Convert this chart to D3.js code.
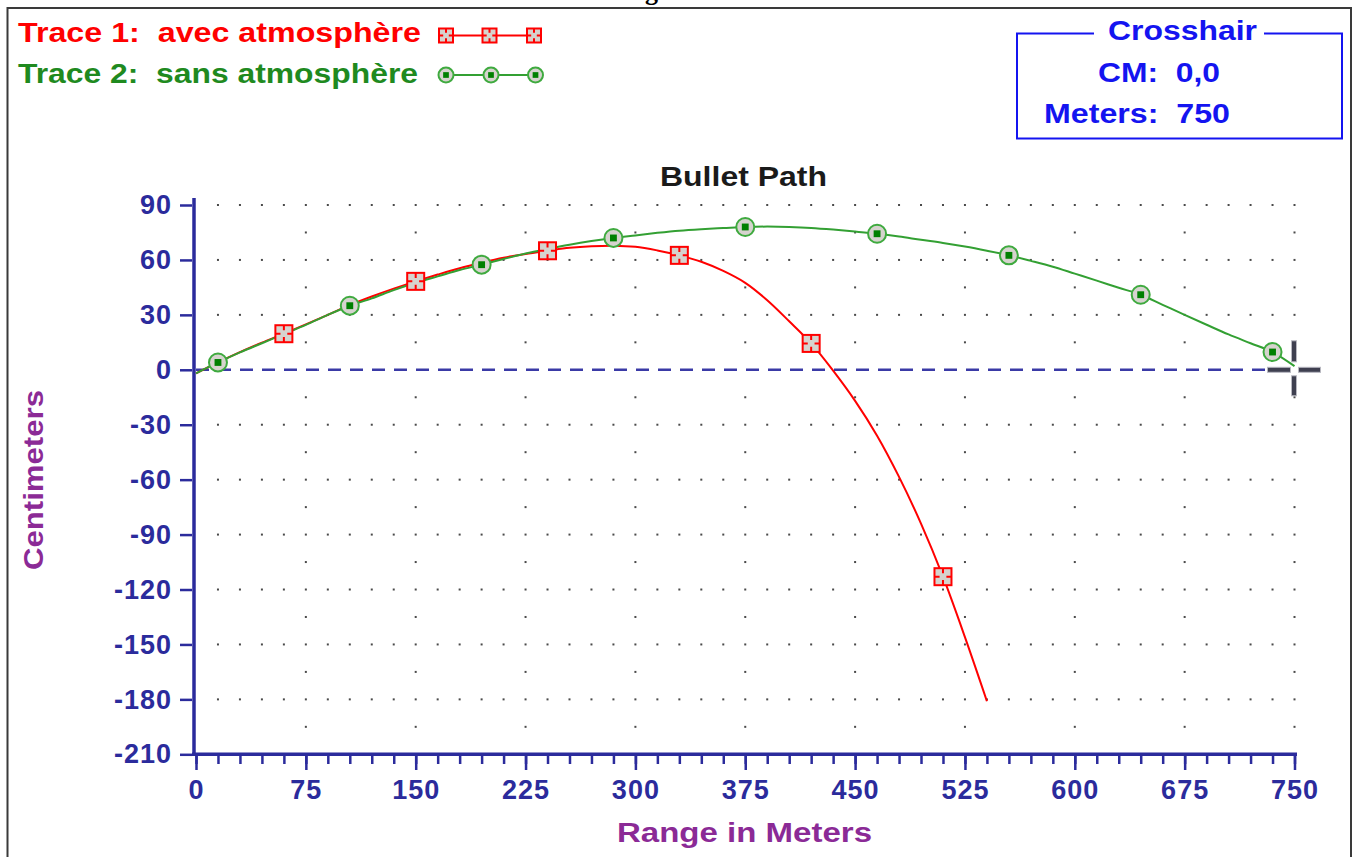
<!DOCTYPE html>
<html>
<head>
<meta charset="utf-8">
<script src="https://cdn.jsdelivr.net/npm/d3@7"></script>
<style>
  body { margin: 0; background: #fff; }
  svg { display: block; }
  text { font-family: "Liberation Sans", Arial, sans-serif; font-weight: bold; white-space: pre; }
</style>
</head>
<body>
<svg id="chart" width="1356" height="857"></svg>
<script>
// ---- data ----
const xTicks = [0, 75, 150, 225, 300, 375, 450, 525, 600, 675, 750];
const yTicks = [90, 60, 30, 0, -30, -60, -90, -120, -150, -180, -210];

// Trace 1: avec atmosphère (range m, drop cm)
const atmoRange = [0, 15, 30, 45, 60, 75, 90, 105, 120, 135, 150, 165, 180, 195, 210, 225, 240, 255, 270, 285, 300, 315, 330, 345, 360, 375, 390, 405, 420, 435, 450, 465, 480, 495, 510, 525, 540];
const atmoCm    = [-2, 4, 9.6, 14.8, 19.7, 24.8, 30, 35.3, 40, 44.3, 48.3, 52, 55.5, 58.5, 61.2, 63.3, 65, 66.6, 67.5, 67.8, 67.2, 65.2, 62.5, 59, 54, 47.5, 38, 26.5, 14.4, -0.5, -17, -36, -58.5, -84, -113, -146, -181];
const atmoMarkRange = [60, 150, 240, 330, 420, 510];
const atmoMarkCm    = [19.7, 48.3, 65.0, 62.5, 14.4, -113.0];

// Trace 2: sans atmosphère
const vacRange = [0, 15, 30, 45, 60, 75, 90, 105, 120, 135, 150, 165, 180, 195, 210, 225, 240, 255, 270, 285, 300, 315, 330, 345, 360, 375, 390, 405, 420, 435, 450, 465, 480, 495, 510, 525, 540, 555, 570, 585, 600, 615, 630, 645, 660, 675, 690, 705, 720, 735, 750];
const vacCm    = [-2, 4, 9.5, 14.5, 19.5, 24.5, 30, 35, 39, 43.5, 47.5, 51, 54.5, 57.4, 60.5, 63.5, 66, 68.3, 70.3, 72, 73.4, 74.8, 76, 76.8, 77.4, 78, 78.2, 78, 77.5, 76.6, 75.5, 74.3, 72.8, 71, 69.3, 67.3, 65, 62.5, 59.5, 56.3, 52.5, 48.7, 44.8, 41, 35.5, 30, 24.6, 19.3, 14.5, 9.7, 2];
const vacMarkRange = [15, 105, 195, 285, 375, 465, 555, 645, 735];
const vacMarkCm    = [4.0, 35.0, 57.4, 72.0, 78.0, 74.3, 62.5, 41.0, 9.7];

const crossRange = 750;
const crossCm = 0;

const legendLabels = ['Trace 1:  avec atmosphère', 'Trace 2:  sans atmosphère'];

// ---- colours ----
const navy = '#2b2b9c';
const red = '#ff0000';
const greenLine = '#33a033';
const greenText = '#1f8a1f';
const purple = '#8b2a96';
const blue = '#1414f0';
const markFill = '#d6d3ce';

const svg = d3.select('#chart');

const x = d3.scaleLinear().domain([0, 750]).range([196, 1294.5]);
const y = d3.scaleLinear().domain([-210, 90]).range([754.3, 205]);

// frame of the original window
svg.append('path')
  .attr('d', 'M7.5,870 V8 H1351 V870')
  .attr('fill', 'none')
  .attr('stroke', '#3a3a3a')
  .attr('stroke-width', 2);

// caption above the frame, cut off by the top edge as in the scan
svg.append('text')
  .attr('x', 622).attr('y', -0.5)
  .style('font-family', '"Liberation Serif", serif')
  .style('font-size', '26px')
  .attr('fill', '#000')
  .text('Fig. 3');

// ---- dotted grid ----
const grid = svg.append('g').attr('fill', '#4a4a4a');
yTicks.filter(v => v !== 0 && v !== -210).forEach(v => {
  grid.selectAll(null)
    .data(d3.range(15, 751, 15))
    .enter().append('rect')
    .attr('x', d => x(d) - 1).attr('y', y(v) - 1)
    .attr('width', 2).attr('height', 2);
});
xTicks.filter(v => v !== 0).forEach(v => {
  grid.selectAll(null)
    .data(d3.range(-195, 90, 30))
    .enter().append('rect')
    .attr('x', x(v) - 1).attr('y', d => y(d) - 1)
    .attr('width', 2).attr('height', 2);
});

// zero line
svg.append('line')
  .attr('x1', x(0)).attr('x2', x(750))
  .attr('y1', y(0)).attr('y2', y(0))
  .attr('stroke', '#3a3aa6')
  .attr('stroke-width', 2.5)
  .attr('stroke-dasharray', '13,9');

// ---- axes ----
const plain = d => String(d);   // ascii hyphen, like the original
const yAxis = svg.append('g')
  .attr('transform', 'translate(192,0)')
  .call(d3.axisLeft(y).tickValues(yTicks).tickFormat(plain).tickSize(12).tickPadding(8));
const xAxis = svg.append('g')
  .attr('transform', 'translate(0,756)')
  .call(d3.axisBottom(x).tickValues(xTicks).tickFormat(plain).tickSize(14).tickPadding(10));
const xMinor = svg.append('g')
  .attr('transform', 'translate(0,756)')
  .call(d3.axisBottom(x).tickValues(d3.range(0, 751, 15)).tickSize(8).tickFormat(''));

[yAxis, xAxis, xMinor].forEach(a => {
  a.select('.domain').remove();
  a.selectAll('.tick line').attr('stroke', navy).attr('stroke-width', 2.5);
  a.selectAll('.tick text')
    .attr('fill', navy)
    .style('font-size', '27px')
    .style('font-family', '"Liberation Sans", Arial, sans-serif')
    .style('font-weight', 'bold')
    .style('letter-spacing', '1px');
});

svg.append('line')
  .attr('x1', 194).attr('x2', 194).attr('y1', 198).attr('y2', 756)
  .attr('stroke', navy).attr('stroke-width', 3.5);
svg.append('line')
  .attr('x1', 192).attr('x2', 1297).attr('y1', y(-210)).attr('y2', y(-210))
  .attr('stroke', navy).attr('stroke-width', 3.5);

// axis titles
svg.append('text')
  .attr('x', 617).attr('y', 842)
  .attr('textLength', 255).attr('lengthAdjust', 'spacingAndGlyphs')
  .attr('fill', purple).style('font-size', '27px')
  .text('Range in Meters');
svg.append('text')
  .attr('transform', 'translate(43,570) rotate(-90)')
  .attr('textLength', 180).attr('lengthAdjust', 'spacingAndGlyphs')
  .attr('fill', purple).style('font-size', '27px')
  .text('Centimeters');

// chart title
svg.append('text')
  .attr('x', 660).attr('y', 186)
  .attr('textLength', 167).attr('lengthAdjust', 'spacingAndGlyphs')
  .attr('fill', '#1a1a1a').style('font-size', '28px')
  .text('Bullet Path');

// ---- traces ----
const line = d3.line().x(d => x(d[0])).y(d => y(d[1])).curve(d3.curveCatmullRom);

svg.append('path')
  .datum(d3.zip(atmoRange, atmoCm))
  .attr('d', line)
  .attr('fill', 'none').attr('stroke', red).attr('stroke-width', 2);
svg.append('path')
  .datum(d3.zip(vacRange, vacCm))
  .attr('d', line)
  .attr('fill', 'none').attr('stroke', greenLine).attr('stroke-width', 2);

function squareMark(g, cx, cy, s) {
  const h = s / 2, t = s * 0.3;
  g.append('rect')
    .attr('x', cx - h).attr('y', cy - h).attr('width', s).attr('height', s)
    .attr('fill', markFill).attr('stroke', red).attr('stroke-width', 2);
  g.append('path')
    .attr('d', `M${cx},${cy - h}v${t}M${cx},${cy + h}v${-t}M${cx - h},${cy}h${t}M${cx + h},${cy}h${-t}`)
    .attr('stroke', red).attr('stroke-width', 2);
}
function circleMark(g, cx, cy, r) {
  g.append('circle')
    .attr('cx', cx).attr('cy', cy).attr('r', r)
    .attr('fill', markFill).attr('stroke', '#3faa3f').attr('stroke-width', 2);
  const q = r * 0.38;
  g.append('rect')
    .attr('x', cx - q).attr('y', cy - q).attr('width', 2 * q).attr('height', 2 * q)
    .attr('fill', '#008000');
}

const marks = svg.append('g');
d3.zip(atmoMarkRange, atmoMarkCm).forEach(d => squareMark(marks, x(d[0]), y(d[1]), 17));
d3.zip(vacMarkRange, vacMarkCm).forEach(d => circleMark(marks, x(d[0]), y(d[1]), 9));

// ---- crosshair cursor ----
const cx = x(crossRange), cy = y(crossCm);
const cursor = svg.append('g').attr('fill', '#3f4050').attr('stroke', '#b8b8c0').attr('stroke-width', 1);
cursor.append('rect').attr('x', cx - 3).attr('y', cy - 29).attr('width', 5).attr('height', 21);
cursor.append('rect').attr('x', cx - 3).attr('y', cy + 6).attr('width', 5).attr('height', 20);
cursor.append('rect').attr('x', cx - 27).attr('y', cy - 2.5).attr('width', 23).attr('height', 5);
cursor.append('rect').attr('x', cx + 4).attr('y', cy - 2.5).attr('width', 22).attr('height', 5);

// ---- legend ----
svg.append('text')
  .attr('x', 18).attr('y', 42)
  .attr('textLength', 403).attr('lengthAdjust', 'spacingAndGlyphs')
  .attr('fill', red).style('font-size', '27px')
  .text(legendLabels[0]);
svg.append('text')
  .attr('x', 18).attr('y', 83)
  .attr('textLength', 400).attr('lengthAdjust', 'spacingAndGlyphs')
  .attr('fill', greenText).style('font-size', '27px')
  .text(legendLabels[1]);

const leg = svg.append('g');
leg.append('line').attr('x1', 439).attr('x2', 541).attr('y1', 35.5).attr('y2', 35.5)
  .attr('stroke', red).attr('stroke-width', 2);
[446, 489.5, 534].forEach(px => squareMark(leg, px, 35.5, 14));
leg.append('line').attr('x1', 439).attr('x2', 542).attr('y1', 75).attr('y2', 75)
  .attr('stroke', greenLine).attr('stroke-width', 2);
[446, 491, 535.5].forEach(px => circleMark(leg, px, 75, 7.5));

// ---- crosshair readout box ----
const fmtCm = v => d3.format('.1f')(v).replace('.', ',');
svg.append('rect')
  .attr('x', 1017).attr('y', 33.5).attr('width', 325).attr('height', 105)
  .attr('fill', 'none').attr('stroke', blue).attr('stroke-width', 2);
svg.append('rect')
  .attr('x', 1094).attr('y', 28).attr('width', 170).attr('height', 12)
  .attr('fill', '#fff');
svg.append('text')
  .attr('x', 1108).attr('y', 40)
  .attr('textLength', 149).attr('lengthAdjust', 'spacingAndGlyphs')
  .attr('fill', blue).style('font-size', '27px')
  .text('Crosshair');
svg.append('text')
  .attr('x', 1098).attr('y', 82)
  .attr('textLength', 122).attr('lengthAdjust', 'spacingAndGlyphs')
  .attr('fill', blue).style('font-size', '27px')
  .text('CM:  ' + fmtCm(crossCm));
svg.append('text')
  .attr('x', 1044).attr('y', 123)
  .attr('textLength', 186).attr('lengthAdjust', 'spacingAndGlyphs')
  .attr('fill', blue).style('font-size', '27px')
  .text('Meters:  ' + crossRange);
</script>
</body>
</html>
